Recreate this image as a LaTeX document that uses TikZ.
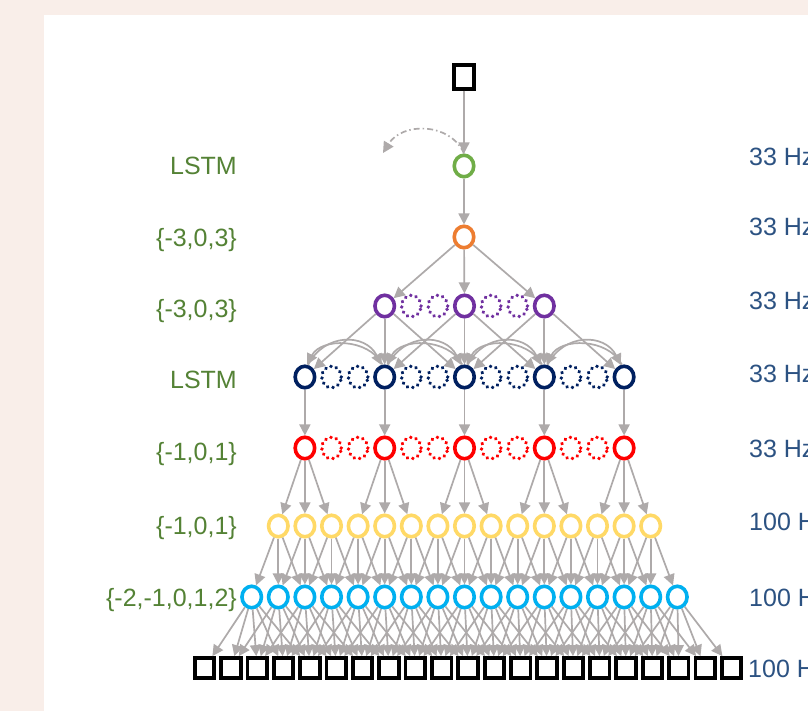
\documentclass[tikz,border=0pt]{standalone}
\usepackage{fontspec}
\setmainfont{Liberation Sans}
\usetikzlibrary{shapes.geometric,arrows.meta}
\definecolor{bgpink}{HTML}{F9EEE9}
\definecolor{edgegray}{HTML}{AEAAAA}
\definecolor{cgreen}{HTML}{70AD47}
\definecolor{corange}{HTML}{ED7D31}
\definecolor{cpurple}{HTML}{7030A0}
\definecolor{cnavy}{HTML}{002060}
\definecolor{cred}{HTML}{FF0000}
\definecolor{cyellow}{HTML}{FFD966}
\definecolor{cblue}{HTML}{00B0F0}
\definecolor{lblgreen}{HTML}{548235}
\definecolor{rateblue}{HTML}{2C5282}
\begin{document}
\begin{tikzpicture}[x=1pt,y=-1pt,
  conn/.style={draw=edgegray, line width=1.7pt, -{Triangle[length=11pt,width=11pt]}},
  solidc/.style={ellipse, draw=#1, line width=3.6pt, minimum width=19.5pt, minimum height=21.5pt, inner sep=0pt},
  dotc/.style={ellipse, draw=#1, line width=3.8pt, dash pattern=on 0.01pt off 5.5pt, line cap=round, minimum width=19.5pt, minimum height=21.5pt, inner sep=0pt},
  sqbox/.style={rectangle, draw=black, line width=3.8pt, minimum width=19.5pt, minimum height=20pt, inner sep=0pt},
  lbl/.style={anchor=base east, inner sep=0pt, text=lblgreen, font=\fontsize{25}{30}\selectfont},
  rate/.style={anchor=base west, inner sep=0pt, text=rateblue, font=\fontsize{25}{30}\selectfont}]
\useasboundingbox (0,0) rectangle (808,711);
\clip (0,0) rectangle (808,711);
\fill[bgpink] (0,0) rectangle (808,711);
\fill[white] (44,15) rectangle (808,711);
\def\cx{464.5}
\def\st{26.6}
\def\sqcx{468}
\def\sqst{26.35}

% top chain
\node[sqbox, minimum height=23.5pt] (t) at (464,77) {};
\node[solidc=cgreen] (g) at (464,166) {};
\node[solidc=corange] (o) at (464,237) {};

% purple row
\foreach \i in {-3,...,3}{
  \pgfmathtruncatemacro\k{\i+12}
  \pgfmathtruncatemacro\m{mod(\k,3)}
  \ifnum\m=0 \node[solidc=cpurple] (p\k) at ({\cx+\i*\st},306) {};
  \else \node[dotc=cpurple] (p\k) at ({\cx+\i*\st},306) {}; \fi
}
% navy and red rows
\foreach \i in {-6,...,6}{
  \pgfmathtruncatemacro\k{\i+12}
  \pgfmathtruncatemacro\m{mod(\k,3)}
  \ifnum\m=0
    \node[solidc=cnavy] (n\k) at ({\cx+\i*\st},377) {};
    \node[solidc=cred] (r\k) at ({\cx+\i*\st},448) {};
  \else
    \node[dotc=cnavy] (n\k) at ({\cx+\i*\st},377) {};
    \node[dotc=cred] (r\k) at ({\cx+\i*\st},448) {};
  \fi
}
% yellow row
\foreach \i in {-7,...,7}{
  \pgfmathtruncatemacro\k{\i+12}
  \node[solidc=cyellow] (y\k) at ({\cx+\i*\st},526) {};
}
% blue row
\foreach \i in {-8,...,8}{
  \pgfmathtruncatemacro\k{\i+12}
  \node[solidc=cblue] (b\k) at ({\cx+\i*\st},597) {};
}
% bottom squares
\foreach \i in {-10,...,10}{
  \pgfmathtruncatemacro\k{\i+12}
  \node[sqbox] (s\k) at ({\sqcx+\i*\sqst},668) {};
}

% connectors
\draw[conn] (t) -- (g);
\draw[conn] (g) -- (o);
\coordinate (rec) at (383,153);
\draw[draw=edgegray, line width=1.7pt, dash pattern=on 6pt off 3pt on 1.5pt off 3pt, -{Triangle[length=11pt,width=11pt]}]
  (g.north) .. controls (450,122) and (402,122) .. (rec);
\foreach \k in {9,12,15} \draw[conn] (o) -- (p\k);
\foreach \k in {9,12,15}{
  \foreach \d in {-3,0,3}{
    \pgfmathtruncatemacro\t{\k+\d}
    \draw[conn] (p\k) -- (n\t);
  }
}
\foreach \k in {6,9,12,15}{
  \pgfmathtruncatemacro\t{\k+3}
  \draw[conn] (n\k.75) .. controls +(16,-32) and +(-16,-32) .. (n\t.105);
  \draw[conn] (n\t.100) .. controls +(-14,-27) and +(14,-27) .. (n\k.80);
}
\foreach \k in {6,9,12,15,18}{
  \draw[conn] (n\k) -- (r\k);
  \foreach \d in {-1,0,1}{
    \pgfmathtruncatemacro\t{\k+\d}
    \draw[conn] (r\k) -- (y\t);
  }
}
\foreach \k in {5,...,19}{
  \foreach \d in {-1,0,1}{
    \pgfmathtruncatemacro\t{\k+\d}
    \draw[conn] (y\k) -- (b\t);
  }
}
\foreach \k in {4,...,20}{
  \foreach \d in {-2,-1,0,1,2}{
    \pgfmathtruncatemacro\t{\k+\d}
    \draw[conn] (b\k) -- (s\t);
  }
}

% left labels
\node[lbl] (l1) at (237,175) {LSTM};
\node[lbl] (l2) at (237,247) {\{-3,0,3\}};
\node[lbl] (l3) at (237,317) {\{-3,0,3\}};
\node[lbl] (l4) at (237,388) {LSTM};
\node[lbl] (l5) at (237,460) {\{-1,0,1\}};
\node[lbl] (l6) at (237,534) {\{-1,0,1\}};
\node[lbl] (l7) at (237,606) {\{-2,-1,0,1,2\}};

% right labels
\node[rate] (h1) at (749,166) {33 Hz};
\node[rate] (h2) at (749,236) {33 Hz};
\node[rate] (h3) at (749,309) {33 Hz};
\node[rate] (h4) at (749,382) {33 Hz};
\node[rate] (h5) at (749,457) {33 Hz};
\node[rate] (h6) at (749,530) {100 Hz};
\node[rate] (h7) at (749,606) {100 Hz};
\node[rate] (h8) at (748,677) {100 Hz};
\end{tikzpicture}
\end{document}
